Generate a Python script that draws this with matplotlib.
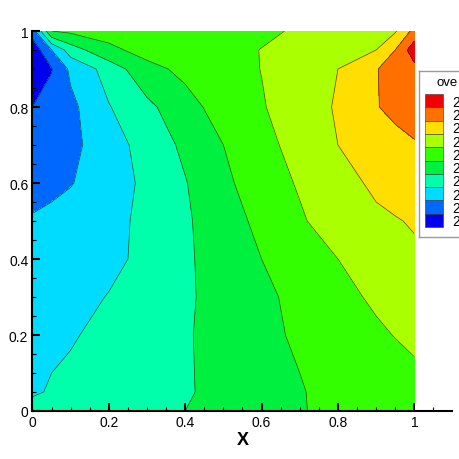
import numpy as np
import matplotlib
matplotlib.use("Agg")
import matplotlib.pyplot as plt
from matplotlib.patches import Rectangle

plt.rcParams['font.family'] = ['Liberation Sans', 'DejaVu Sans']

# grid nodes
x_nodes = [0, 0.05, 0.1, 0.2, 0.3, 0.4, 0.5, 0.6, 0.7, 0.8, 0.9, 0.95, 1.0]
y_nodes = [0, 0.05, 0.1, 0.2, 0.3, 0.4, 0.5, 0.6, 0.7, 0.8, 0.9, 0.95, 1.0]

# field values, one row per y node (bottom to top)
z_rows = [
    [23.3, 23.4, 23.5, 23.65, 23.8, 24.0, 24.3, 24.6, 24.95, 25.2, 25.45, 25.6, 25.7],
    [22.9, 23.07, 23.2, 23.45, 23.7, 23.93, 24.2, 24.6, 24.95, 25.25, 25.5, 25.6, 25.72],
    [22.8, 23.0, 23.12, 23.38, 23.65, 23.92, 24.25, 24.62, 25.0, 25.3, 25.55, 25.7, 25.85],
    [22.5, 22.7, 22.92, 23.25, 23.6, 23.92, 24.3, 24.75, 25.15, 25.5, 25.85, 26.03, 26.2],
    [22.3, 22.45, 22.6, 23.05, 23.5, 23.88, 24.3, 24.8, 25.25, 25.72, 26.15, 26.35, 26.55],
    [22.1, 22.25, 22.4, 22.7, 23.3, 23.85, 24.45, 25.0, 25.5, 26.0, 26.4, 26.6, 26.8],
    [22.1, 22.25, 22.4, 22.75, 23.2, 23.87, 24.55, 25.25, 25.88, 26.5, 26.8, 26.93, 27.1],
    [21.6, 21.75, 21.95, 22.55, 23.2, 23.95, 24.8, 25.5, 26.1, 26.6, 27.2, 27.45, 27.65],
    [21.4, 21.55, 21.75, 22.55, 23.4, 24.2, 25.0, 25.7, 26.35, 27.0, 27.45, 27.7, 27.92],
    [21.0, 21.4, 21.75, 22.95, 23.75, 24.7, 25.35, 25.93, 26.5, 27.1, 27.95, 28.25, 28.45],
    [20.3, 20.95, 22.2, 23.4, 24.75, 25.2, 25.6, 26.02, 26.5, 27.0, 27.95, 28.4, 28.7],
    [20.3, 22.0, 23.5, 24.8, 25.3, 25.5, 25.75, 26.02, 26.3, 26.6, 27.0, 28.0, 29.6],
    [21.5, 25.0, 25.2, 25.35, 25.45, 25.55, 25.7, 25.85, 26.1, 26.45, 26.75, 26.9, 28.3],
]

levels = [20, 21, 22, 23, 24, 25, 26, 27, 28, 29, 30]
band_colors = ['#0000EE', '#0068FF', '#00DCFF', '#00FFAA', '#00F040',
               '#33FF00', '#AAFF00', '#FFDE00', '#FF7000', '#F00000']
legend_title = "ove"
legend_labels = ["2"] * 10

X, Y = np.meshgrid(x_nodes, y_nodes)
Z = np.array(z_rows)

fig = plt.figure(figsize=(4.6, 4.6), dpi=100)
ax = fig.add_axes([32.5 / 460, 48 / 460, 420 / 460, 380 / 460])

ax.contourf(X, Y, Z, levels=levels, colors=band_colors)
ax.contour(X, Y, Z, levels=levels[1:-1], colors='#202020', linewidths=0.5, alpha=0.8)

ax.set_xlim(0, 1.1)
ax.set_ylim(0, 1)
ax.spines['top'].set_visible(False)
ax.spines['right'].set_visible(False)
for s in ['left', 'bottom']:
    ax.spines[s].set_linewidth(1.5)
ax.set_xticks([0, 0.2, 0.4, 0.6, 0.8, 1])
ax.set_xticklabels(['0', '0.2', '0.4', '0.6', '0.8', '1'])
ax.set_yticks([0, 0.2, 0.4, 0.6, 0.8, 1])
ax.set_yticklabels(['0', '0.2', '0.4', '0.6', '0.8', '1'])
ax.set_xticks(np.arange(0, 1.1, 0.05), minor=True)
ax.set_yticks(np.arange(0, 1.01, 0.05), minor=True)
ax.tick_params(which='major', direction='in', length=6, width=1.5, labelsize=10, pad=3)
ax.tick_params(which='minor', direction='in', length=3, width=0.8)
ax.set_xlabel("X", fontsize=13, fontweight='bold', labelpad=1)

# legend box (runs off the right edge, as in the original)
lax = fig.add_axes([419 / 460, (460 - 238) / 460, 60 / 460, 166 / 460])
lax.set_xlim(0, 60)
lax.set_ylim(166, 0)
lax.set_xticks([])
lax.set_yticks([])
for s in ['left', 'top', 'bottom']:
    lax.spines[s].set_color('#999999')
    lax.spines[s].set_linewidth(1)
lax.spines['right'].set_visible(False)
lax.text(18, 11, legend_title, fontsize=9.5, va='center', ha='left')
sw_h = 133 / len(band_colors)
for i, c in enumerate(band_colors[::-1]):
    top = 23 + i * sw_h
    lax.add_patch(Rectangle((6, top), 18, sw_h, facecolor=c, edgecolor='#333333', linewidth=0.4))
    lax.text(33, top + sw_h / 2 + 1, legend_labels[i], fontsize=10, va='center', ha='left')

fig.savefig("out.png", dpi=100)
